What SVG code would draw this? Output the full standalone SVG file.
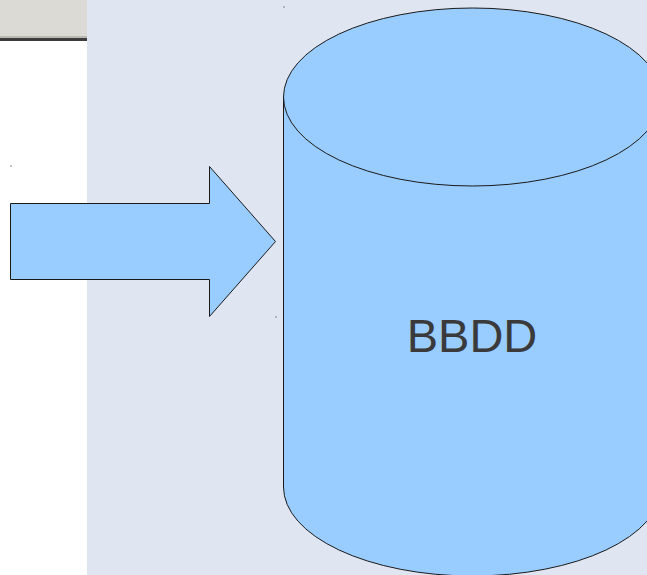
<svg xmlns="http://www.w3.org/2000/svg" width="647" height="575" viewBox="0 0 647 575">
<style>
.shape{fill:#99ccff;stroke:#1a1a1a;stroke-width:1}
.lbl{font-family:"Liberation Sans",Arial,sans-serif;font-size:47px;fill:#3a3a3a;text-anchor:middle}
.dot{fill:#222}
</style>
<rect x="0" y="0" width="647" height="575" fill="#ffffff"/>
<rect x="87" y="0" width="560" height="575" fill="#dfe6f1"/>
<g id="toolbar">
<rect x="0" y="0" width="87" height="36" fill="#dcdad5"/>
<rect x="0" y="36" width="87" height="2" fill="#bab8b2"/>
<rect x="0" y="38" width="87" height="3" fill="#3c3c3c"/>
</g>
<g id="connectors">
<path class="shape" d="M10.5,203.5 H209.5 V166.5 L275.5,241.5 L209.5,316.5 V279.5 H10.5 Z"/>
</g>
<g id="bbdd">
<path class="shape" d="M283.5,97 V487 A189,89 0 0 0 661.5,487 V97 Z"/>
<ellipse class="shape" cx="472.5" cy="97" rx="189" ry="89"/>
<text class="lbl" x="472" y="352">BBDD</text>
</g>
<g id="handles">
<rect class="dot" x="283.5" y="6.5" width="1" height="1"/>
<rect class="dot" x="10.5" y="165.5" width="1" height="1"/>
<rect class="dot" x="275.5" y="316.5" width="1" height="1"/>
</g>
</svg>
